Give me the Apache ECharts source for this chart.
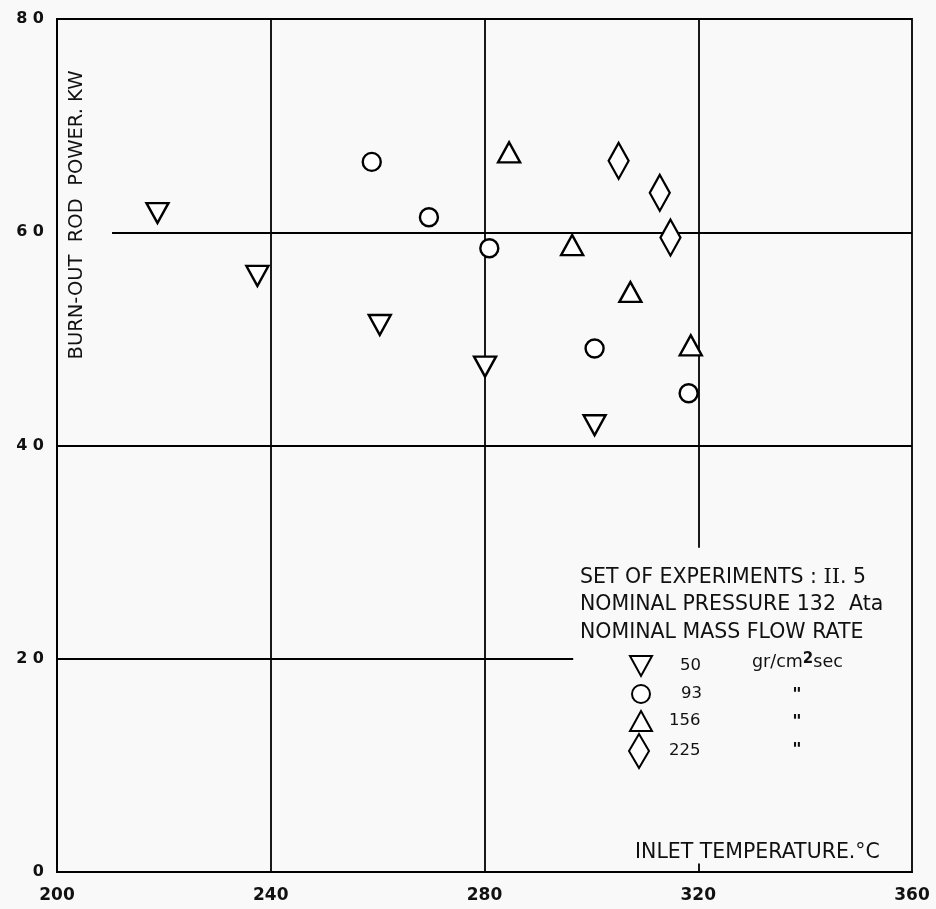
<!DOCTYPE html>
<html>
<head>
<meta charset="utf-8">
<script src="https://cdn.jsdelivr.net/npm/echarts@6/dist/echarts.min.js"></script>
<style>html,body{margin:0;padding:0;background:#f9f9f9;}#c{width:936px;height:909px;}</style>
</head>
<body>
<div id="c"></div>
<script>
// ---- data (inlet temperature °C, burn-out rod power kW) ----
const temp50 = [218.8, 237.5, 260.4, 280.1, 300.6];
const power50 = [61.8, 55.9, 51.3, 47.4, 41.9];
const temp93 = [258.9, 269.6, 280.9, 300.6, 318.2];
const power93 = [66.6, 61.4, 58.5, 49.1, 44.9];
const temp156 = [284.6, 296.4, 307.3, 318.6];
const power156 = [67.5, 58.8, 54.4, 49.4];
const temp225 = [305.1, 312.8, 314.8];
const power225 = [66.7, 63.7, 59.5];
const flowNames = ['50', '93', '156', '225'];
const xTicks = [200, 240, 280, 320, 360];
const yTicks = [0, 20, 40, 60, 80];
// grid line segments: [x, yFrom, yTo] and [y, xFrom, xTo]
const vGrid = [[240, 0, 80], [280, 0, 80], [320, 30.4, 80], [320, 0, 0.8]];
const hGrid = [[20, 200, 296.6], [40, 200, 360], [60, 210.3, 360]];

const FONT = 'DejaVu Sans';
const INK = '#111';
const downTri = 'path://M0,0L22,0L11,20Z';
const mk = {color: '#ffffff', borderColor: '#000', borderWidth: 2.4, opacity: 1};
const zip = (a, b) => a.map((v, i) => [v, b[i]]);

const gridLines = vGrid.map(g => [{coord: [g[0], g[1]]}, {coord: [g[0], g[2]]}])
  .concat(hGrid.map(g => [{coord: [g[1], g[0]]}, {coord: [g[2], g[0]]}]));

const chart = echarts.init(document.getElementById('c'), null, {renderer: 'canvas'});
const legendText = pad => ({fontFamily: FONT, fontSize: 16.5, color: INK, padding: [0, 0, 0, pad]});
const legendBase = {orient: 'horizontal', padding: 0, selectedMode: false};
chart.setOption({
  backgroundColor: '#f9f9f9',
  animation: false,
  grid: {left: 57, right: 24, top: 19, bottom: 37, show: true, borderColor: '#000', borderWidth: 1.8, backgroundColor: 'transparent'},
  xAxis: {
    type: 'value', min: xTicks[0], max: xTicks[xTicks.length - 1], interval: 40,
    axisLine: {show: true, lineStyle: {color: '#000', width: 2}},
    axisTick: {show: false}, splitLine: {show: false},
    axisLabel: {color: INK, fontFamily: FONT, fontWeight: 'bold', fontSize: 17, margin: 15,
      formatter: v => xTicks.includes(v) ? String(v) : ''}
  },
  yAxis: {
    type: 'value', min: yTicks[0], max: yTicks[yTicks.length - 1], interval: 20,
    axisLine: {show: true, lineStyle: {color: '#000', width: 2}},
    axisTick: {show: false}, splitLine: {show: false},
    axisLabel: {color: INK, fontFamily: FONT, fontWeight: 'bold', fontSize: 16, margin: 13,
      formatter: v => yTicks.includes(v) ? String(v).split('').join(' ') : ''}
  },
  legend: [
    Object.assign({}, legendBase, {data: [{name: flowNames[0], icon: downTri}], left: 629, top: 655, itemWidth: 22, itemHeight: 20, textStyle: legendText(23)}),
    Object.assign({}, legendBase, {data: [{name: flowNames[1], icon: 'circle'}], left: 631, top: 684, itemWidth: 18, itemHeight: 18, textStyle: legendText(26)}),
    Object.assign({}, legendBase, {data: [{name: flowNames[2], icon: 'triangle'}], left: 629, top: 710, itemWidth: 22, itemHeight: 20, textStyle: legendText(12)}),
    Object.assign({}, legendBase, {data: [{name: flowNames[3], icon: 'diamond'}], left: 628, top: 733, itemWidth: 20, itemHeight: 34, textStyle: legendText(15)})
  ],
  series: [
    {name: flowNames[0], type: 'scatter', symbol: downTri, symbolSize: [22, 20], itemStyle: mk, data: zip(temp50, power50), z: 5,
      markLine: {silent: true, symbol: 'none', label: {show: false}, lineStyle: {color: '#000', width: 1.8, type: 'solid'}, data: gridLines, z: 1}},
    {name: flowNames[1], type: 'scatter', symbol: 'circle', symbolSize: 18, itemStyle: mk, data: zip(temp93, power93), z: 5},
    {name: flowNames[2], type: 'scatter', symbol: 'triangle', symbolSize: [22, 20], itemStyle: mk, data: zip(temp156, power156), z: 5},
    {name: flowNames[3], type: 'scatter', symbol: 'diamond', symbolSize: [20, 36], itemStyle: mk, data: zip(temp225, power225), z: 5}
  ],
  graphic: [
    {type: 'text', x: 77, y: 215, rotation: Math.PI / 2, style: {text: 'BURN-OUT  ROD  POWER. KW', fontFamily: FONT, fontSize: 19.5, fill: INK, align: 'center', verticalAlign: 'middle'}},
    {type: 'text', x: 635, y: 853, style: {text: 'INLET TEMPERATURE.°C', fontFamily: FONT, fontSize: 20.5, fill: INK, align: 'left', verticalAlign: 'middle'}},
    {type: 'text', x: 580, y: 578, style: {text: 'SET OF EXPERIMENTS : {r|II}. 5', fontFamily: FONT, fontSize: 20.5, fill: INK, align: 'left', verticalAlign: 'middle',
      rich: {r: {fontFamily: 'DejaVu Serif', fontSize: 21, fill: INK}}}},
    {type: 'text', x: 580, y: 605, style: {text: 'NOMINAL PRESSURE 132  Ata', fontFamily: FONT, fontSize: 20.5, fill: INK, align: 'left', verticalAlign: 'middle'}},
    {type: 'text', x: 580, y: 633, style: {text: 'NOMINAL MASS FLOW RATE', fontFamily: FONT, fontSize: 20.5, fill: INK, align: 'left', verticalAlign: 'middle'}},
    {type: 'text', x: 752, y: 662, style: {text: 'gr/cm{s|2}sec', fontFamily: FONT, fontSize: 17.5, fill: INK, align: 'left', verticalAlign: 'middle',
      rich: {s: {fontFamily: FONT, fontSize: 15, fontWeight: 'bold', fill: INK, verticalAlign: 'top', padding: [0, 0, 6, 0]}}}},
    {type: 'text', x: 797, y: 695, style: {text: '"', fontFamily: FONT, fontSize: 18, fontWeight: 'bold', fill: INK, align: 'center', verticalAlign: 'middle'}},
    {type: 'text', x: 797, y: 722, style: {text: '"', fontFamily: FONT, fontSize: 18, fontWeight: 'bold', fill: INK, align: 'center', verticalAlign: 'middle'}},
    {type: 'text', x: 797, y: 750, style: {text: '"', fontFamily: FONT, fontSize: 18, fontWeight: 'bold', fill: INK, align: 'center', verticalAlign: 'middle'}}
  ]
});
</script>
</body>
</html>
